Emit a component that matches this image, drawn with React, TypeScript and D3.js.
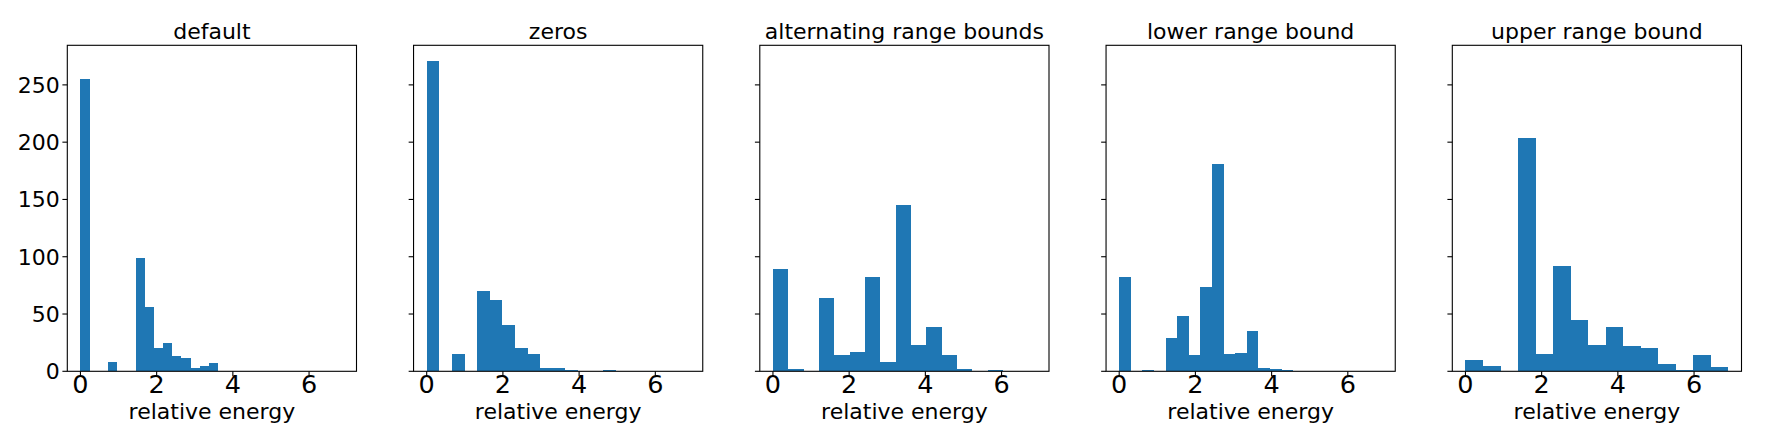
import React, { useEffect, useRef } from 'react';
import * as d3 from 'd3';

// panel titles, left to right
const titles = ['default', 'zeros', 'alternating range bounds', 'lower range bound', 'upper range bound'];

// histogram bin widths (bins start at 0)
const binWidths = [0.241, 0.331, 0.4025, 0.3045, 0.46];

// counts per bin
const countsDefault = [255, 0, 0, 8, 0, 0, 99, 56, 20, 25, 13, 12, 3, 5, 7];
const countsZeros = [271, 0, 15, 0, 70, 62, 40, 20, 15, 3, 3, 1, 0, 0, 1];
const countsAlternating = [89, 2, 0, 64, 14, 17, 82, 8, 145, 23, 39, 14, 2, 0, 1];
const countsLower = [82, 0, 1, 0, 29, 48, 14, 74, 181, 15, 16, 35, 3, 2, 1];
const countsUpper = [10, 5, 0, 204, 15, 92, 45, 23, 39, 22, 20, 6, 1, 14, 4];

const allCounts = [countsDefault, countsZeros, countsAlternating, countsLower, countsUpper];

const xTicks = [0, 2, 4, 6];
const yTicks = [0, 50, 100, 150, 200, 250];
const xLabel = 'relative energy';

const W = 1765;
const H = 425;

export default function App() {
  const svgRef = useRef<SVGSVGElement>(null);

  useEffect(() => {
    if (!svgRef.current) return;
    const svg = d3.select(svgRef.current);
    svg.selectAll('*').remove();

    const font = 'DejaVu Sans, sans-serif';
    const top = 45.3;
    const bottom = 371.3;
    const panelW = 289.2;
    const step = 346.25;
    const firstLeft = 67.3;

    // shared y (sharey) with matplotlib's 5% top margin
    const yMax = d3.max(allCounts.flat())! * 1.05;
    const y = d3.scaleLinear().domain([0, yMax]).range([bottom, top]);

    svg.append('rect').attr('width', W).attr('height', H).attr('fill', '#fff');

    allCounts.forEach((counts, p) => {
      const left = firstLeft + p * step;
      const x = d3.scaleLinear().domain([-0.345, 7.245]).range([left, left + panelW]);
      const w = binWidths[p];
      const g = svg.append('g');

      const bins = counts.map((c, i) => ({ x0: i * w, x1: (i + 1) * w, c }));

      g.selectAll('.bar')
        .data(bins.filter(b => b.c > 0))
        .enter()
        .append('rect')
        .attr('class', 'bar')
        .attr('x', d => x(d.x0))
        .attr('width', d => x(d.x1) - x(d.x0))
        .attr('y', d => y(d.c))
        .attr('height', d => y(0) - y(d.c))
        .attr('shape-rendering', 'crispEdges')
        .style('fill', '#1f77b4');

      // frame
      g.append('rect')
        .attr('x', left)
        .attr('y', top)
        .attr('width', panelW)
        .attr('height', bottom - top)
        .style('fill', 'none')
        .style('stroke', '#000')
        .style('stroke-width', 1.1);

      // x ticks
      g.selectAll('.xtick')
        .data(xTicks)
        .enter()
        .append('line')
        .attr('x1', d => x(d))
        .attr('x2', d => x(d))
        .attr('y1', bottom)
        .attr('y2', bottom + 4.9)
        .style('stroke', '#000')
        .style('stroke-width', 1.1);

      g.selectAll('.xlab')
        .data(xTicks)
        .enter()
        .append('text')
        .attr('x', d => x(d))
        .attr('y', 392.7)
        .attr('text-anchor', 'middle')
        .style('font-family', font)
        .style('font-size', '25.5px')
        .style('fill', '#000')
        .text(d => d);

      // y ticks (labels only on the first panel)
      g.selectAll('.ytick')
        .data(yTicks)
        .enter()
        .append('line')
        .attr('x1', left - 4.9)
        .attr('x2', left)
        .attr('y1', d => y(d))
        .attr('y2', d => y(d))
        .style('stroke', '#000')
        .style('stroke-width', 1.1);

      if (p === 0) {
        g.selectAll('.ylab')
          .data(yTicks)
          .enter()
          .append('text')
          .attr('x', left - 7.6)
          .attr('y', d => y(d))
          .attr('dy', '0.36em')
          .attr('text-anchor', 'end')
          .style('font-family', font)
          .style('font-size', '22px')
          .style('fill', '#000')
          .text(d => d);
      }

      g.append('text')
        .attr('x', left + panelW / 2)
        .attr('y', 39)
        .attr('text-anchor', 'middle')
        .style('font-family', font)
        .style('font-size', '22px')
        .style('fill', '#000')
        .text(titles[p]);

      g.append('text')
        .attr('x', left + panelW / 2)
        .attr('y', 419)
        .attr('text-anchor', 'middle')
        .style('font-family', font)
        .style('font-size', '22px')
        .style('fill', '#000')
        .text(xLabel);
    });
  }, []);

  return (
    <div style={{ position: 'absolute', left: 0, top: 0, width: W, height: H }}>
      <svg ref={svgRef} width={W} height={H} style={{ display: 'block' }}></svg>
    </div>
  );
}
